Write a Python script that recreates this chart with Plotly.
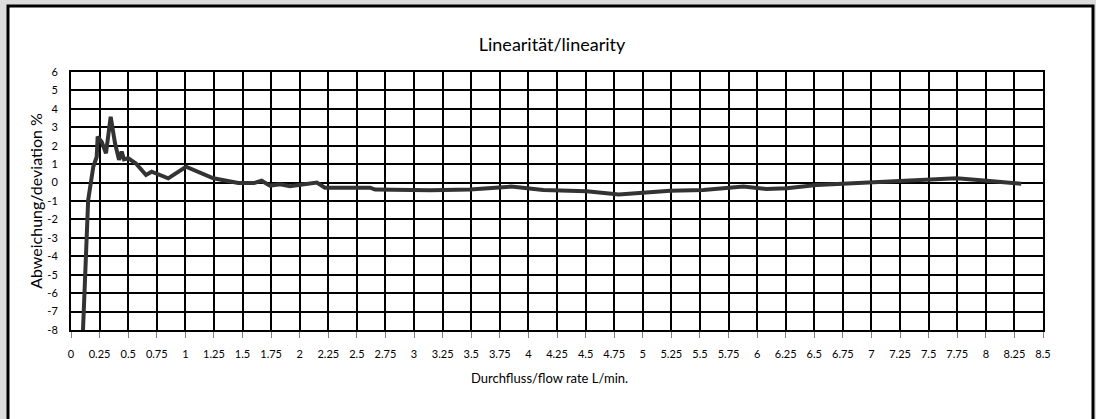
import plotly.graph_objects as go

flow_rate = [0.105, 0.15, 0.195, 0.225, 0.233, 0.268, 0.306, 0.347, 0.385, 0.42, 0.443,
             0.463, 0.50, 0.568, 0.656, 0.705, 0.85, 1.006, 1.245, 1.463, 1.60, 1.667,
             1.74, 1.83, 1.915, 2.0, 2.15, 2.22, 2.615, 2.66, 3.14, 3.49, 3.85, 4.13,
             4.51, 4.79, 5.24, 5.53, 5.76, 5.88, 6.08, 6.26, 6.52, 6.99, 7.42, 7.745,
             8.01, 8.31]
deviation = [-8.0, -0.95, 0.86, 1.4, 2.49, 2.22, 1.59, 3.57, 2.13, 1.23, 1.68,
             1.26, 1.32, 1.04, 0.41, 0.59, 0.23, 0.86, 0.23, -0.02, -0.03, 0.10,
             -0.17, -0.09, -0.20, -0.13, 0.0, -0.28, -0.28, -0.38, -0.42, -0.37, -0.22, -0.40,
             -0.47, -0.65, -0.44, -0.40, -0.30, -0.22, -0.35, -0.31, -0.13, 0.0, 0.1, 0.23,
             0.1, -0.06]

x_ticks = [i * 0.25 for i in range(35)]
x_tick_labels = [f"{v:g}" for v in x_ticks]
y_ticks = list(range(-8, 7))
y_tick_labels = [str(v) for v in y_ticks]

FONT = "Lato"

fig = go.Figure()
fig.add_trace(go.Scatter(x=flow_rate, y=deviation, mode="lines",
                         line=dict(color="#333333", width=4), hoverinfo="x+y"))

fig.update_layout(
    width=1096, height=419,
    margin=dict(l=71, r=53, t=72, b=89, autoexpand=False),
    paper_bgcolor="#dcdcdc",
    plot_bgcolor="white",
    showlegend=False,
    font=dict(family=FONT, color="black"),
    title=dict(text="Linearität/linearity", x=552 / 1096, xanchor="center",
               y=1 - 45 / 419, yanchor="middle", font=dict(size=18, family=FONT)),
    shapes=[dict(type="rect", xref="paper", yref="paper",
                 x0=(8 - 71) / 972, x1=(1093 - 71) / 972,
                 y0=(330 - 425) / 258, y1=(330 - 6) / 258,
                 fillcolor="white", line=dict(color="black", width=3), layer="below")],
    annotations=[dict(text="Durchfluss/flow rate L/min.", xref="paper", yref="paper",
                      x=(549 - 71) / 972, y=(330 - 378) / 258, xanchor="center",
                      yanchor="middle", showarrow=False, font=dict(size=13, family=FONT))],
)

fig.update_xaxes(range=[0, 8.5], tickvals=x_ticks, ticktext=x_tick_labels,
                 automargin=False,
                 showgrid=True, gridcolor="black", gridwidth=2,
                 showline=True, mirror=True, linecolor="black", linewidth=2,
                 zeroline=False, ticks="outside", ticklen=6, tickcolor="#808080",
                 tickwidth=1, ticklabelstandoff=7,
                 tickfont=dict(size=11, family=FONT))
fig.update_yaxes(range=[-8, 6], tickvals=y_ticks, ticktext=y_tick_labels,
                 automargin=False,
                 showgrid=True, gridcolor="black", gridwidth=2,
                 showline=True, mirror=True, linecolor="black", linewidth=2,
                 zeroline=True, zerolinecolor="black", zerolinewidth=2,
                 ticks="", ticklabelstandoff=9,
                 tickfont=dict(size=11, family=FONT),
                 title=dict(text="Abweichung/deviation %", font=dict(size=16, family=FONT),
                            standoff=1))

fig.write_html(
    "out.html",
    config={"displayModeBar": False},
    post_script="document.body.style.margin='0';document.body.style.background='#dcdcdc';"
                "document.body.style.overflow='hidden';",
)
